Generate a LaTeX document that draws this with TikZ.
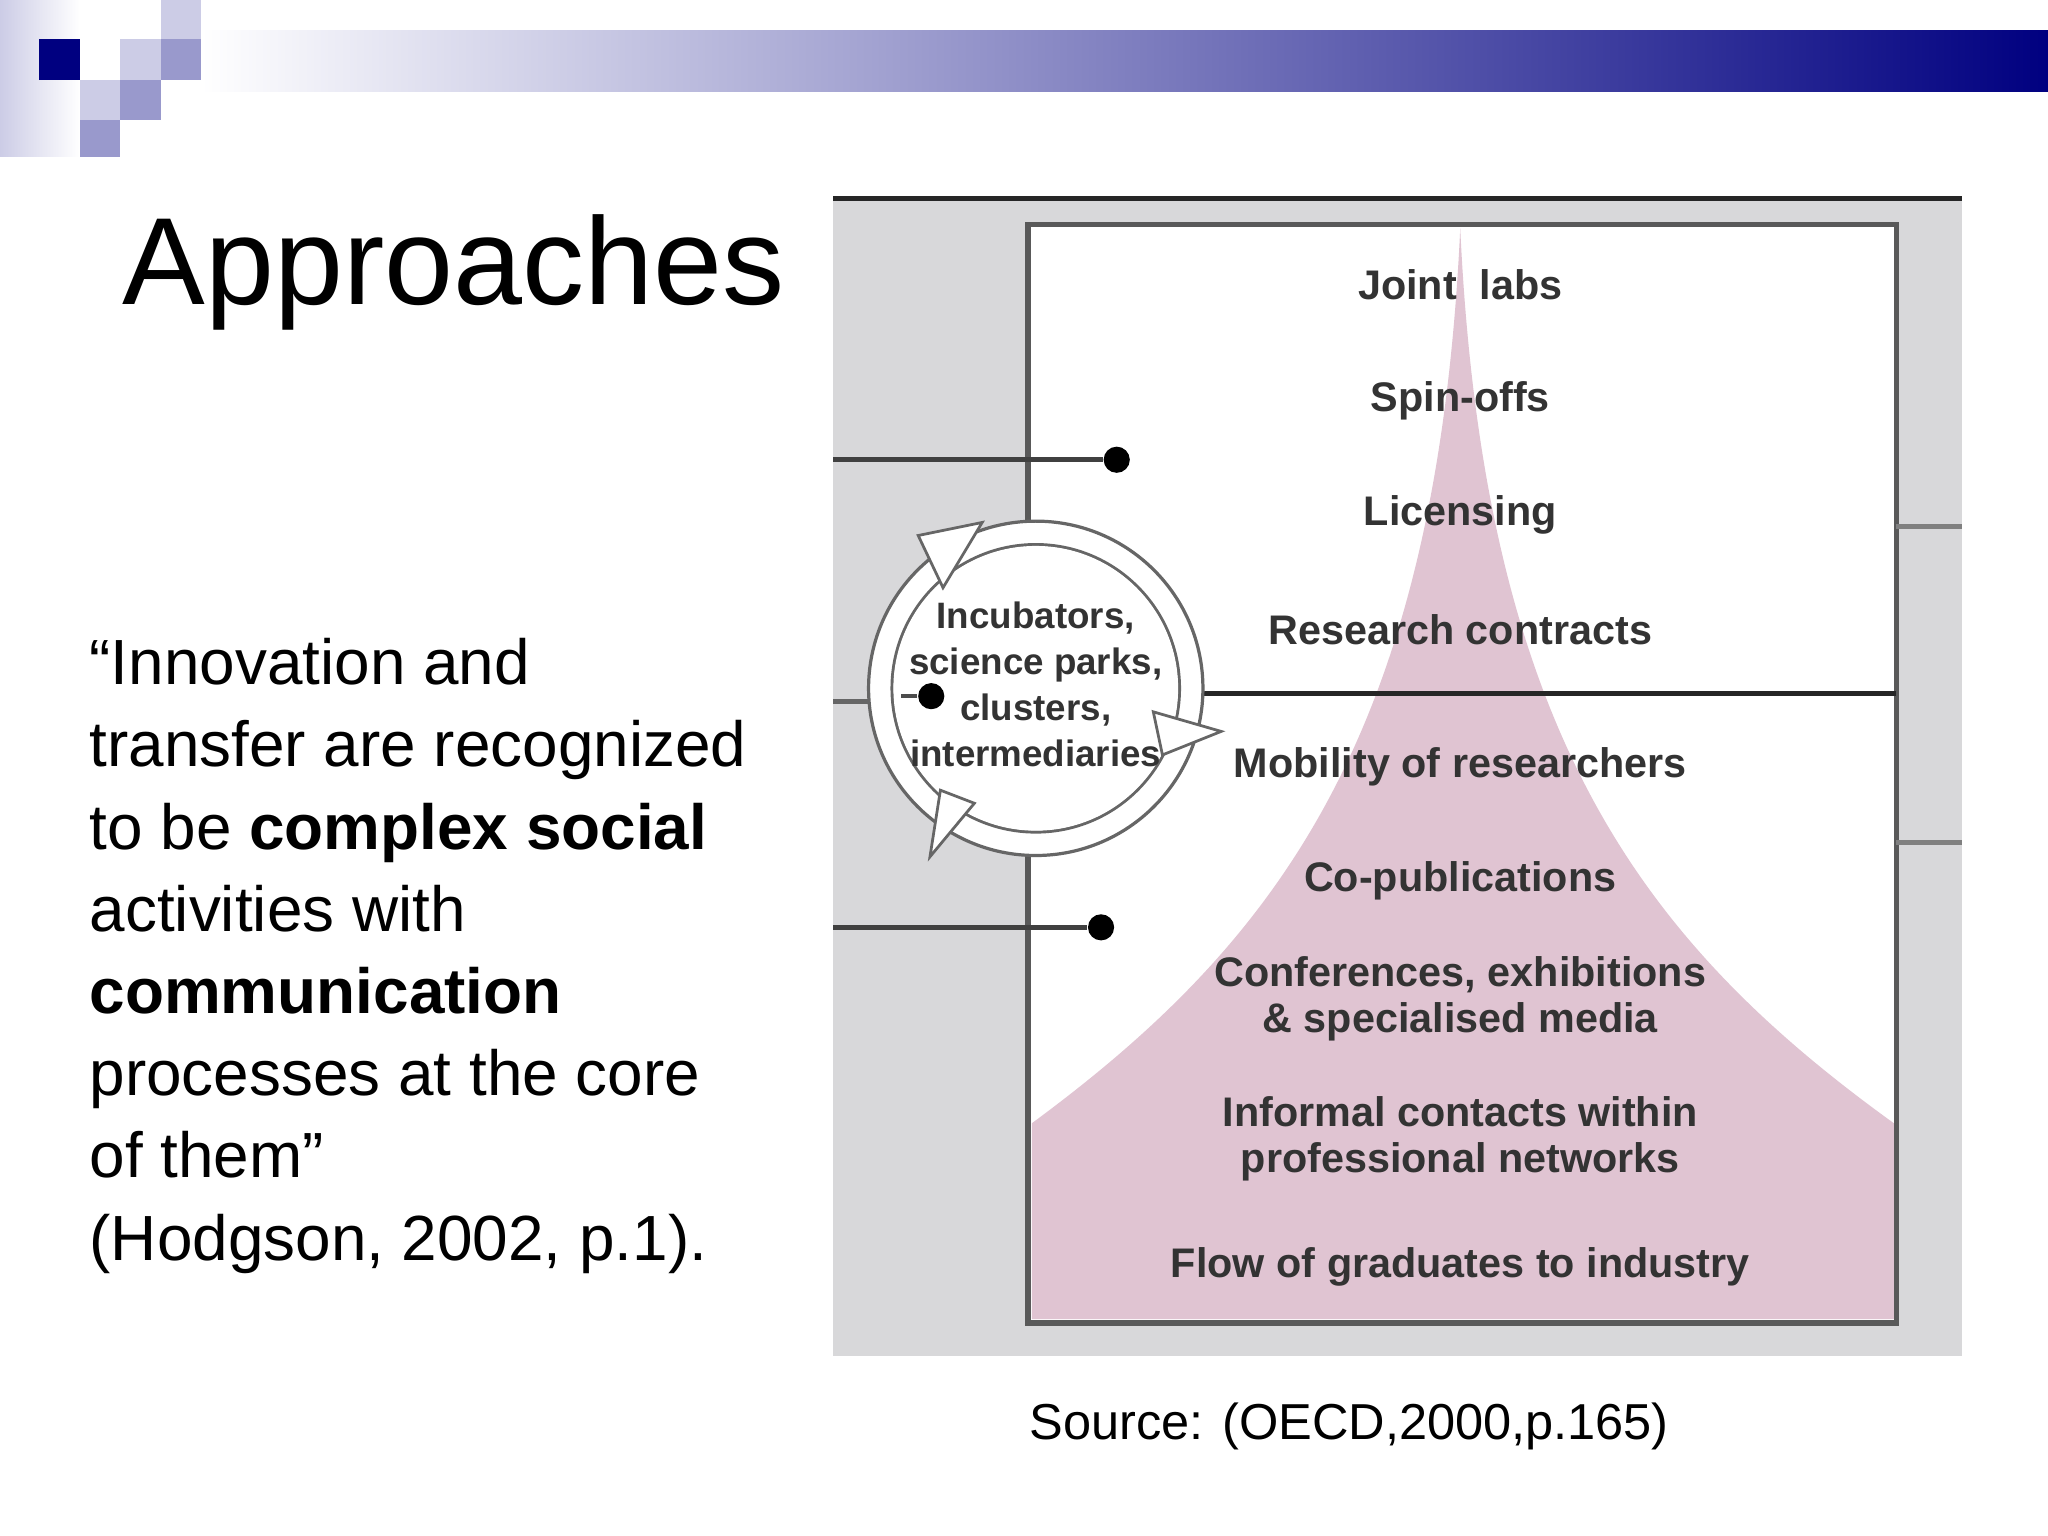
\documentclass[tikz,border=0pt]{standalone}
\usepackage{fontspec}
\setmainfont{Liberation Sans}
\begin{document}
\begin{tikzpicture}[x=0.01cm,y=-0.01cm,
  lbl/.style={text=black!80, font=\fontsize{9}{10}\selectfont\bfseries, align=center, inner sep=0pt},
  dot/.style={circle, fill=black, inner sep=0pt, minimum size=0.2cm},
  tri/.style={fill=white, draw=black!60, line width=0.6pt}]
\useasboundingbox (0,0) rectangle (1568,1176);
\definecolor{navy}{RGB}{0,0,128}
\definecolor{lav}{RGB}{204,204,230}
\definecolor{mid}{RGB}{153,153,204}
\definecolor{pinky}{RGB}{224,196,210}
\definecolor{panel}{RGB}{216,216,218}
% header decoration
\shade[left color=white, right color=navy] (154,23) rectangle (1568,70);
\shade[left color=lav, right color=white] (0,0) rectangle (61,120);
\fill[navy] (30,30) rectangle (61,61);
\fill[lav] (92,30) rectangle (123,61);
\fill[mid] (123,30) rectangle (154,61);
\fill[lav] (123,0) rectangle (154,30);
\fill[lav] (61,61) rectangle (92,92);
\fill[mid] (92,61) rectangle (123,92);
\fill[mid] (61,92) rectangle (92,120);
% title and text
\node[anchor=base west, inner sep=0pt, font=\fontsize{27}{30}\selectfont] (title) at (93,233) {Approaches};
\node[anchor=north west, inner sep=0pt, align=left, font=\fontsize{13.9}{17.9}\selectfont] (quote) at (68,488)
{“Innovation and\\transfer are recognized\\to be \textbf{complex social}\\activities with\\\textbf{communication}\\processes at the core\\of them”\\(Hodgson, 2002, p.1).};
\node[inner sep=0pt, font=\fontsize{11}{13}\selectfont] (src) at (1033,1092) {Source: (OECD,2000,p.165)};
% panel
\fill[panel] (638,152) rectangle (1502,1038);
\draw[line width=1.2pt, black!85] (638,152) -- (1502,152);
\fill[white] (787,172) rectangle (1452,1013);
\fill[pinky] (1118,175) .. controls (1100,560) and (980,720) .. (790,860) -- (790,1010) -- (1450,1010) -- (1450,860) .. controls (1256,720) and (1136,560) .. (1118,175) -- cycle;
\draw[line width=1.2pt, black!65] (787,172) rectangle (1452,1013);
\draw[line width=1pt, black!85] (900,531) -- (1452,531);
% side lines
\node[dot] (d1) at (855,352) {};
\node[dot] (d2) at (843,710) {};
\coordinate (l1) at (638,352);
\coordinate (l2) at (638,710);
\coordinate (l3) at (638,537);
\draw[line width=1pt, black!75] (l1) -- (d1);
\draw[line width=1pt, black!75] (l2) -- (d2);
\draw[line width=1pt, black!50] (1452,403) -- (1502,403);
\draw[line width=1pt, black!50] (1452,645) -- (1502,645);
% cycle ring
\fill[white, even odd rule, draw=black!60, line width=0.7pt] (793,527) circle (128) (793,527) circle (110);
\fill[white] (793,527) circle (109);
\draw[line width=1pt, black!60] (l3) -- (666,537);
\node[dot] (d3) at (713,533) {};
\draw[line width=0.8pt, black!70] (d3) -- (690,533);
\draw[tri] (703,410) -- (752,400) -- (722,450) -- cycle;
\draw[tri] (883,545) -- (935,560) -- (890,578) -- cycle;
\draw[tri] (712,656) -- (720,605) -- (746,615) -- cycle;
\node[lbl, font=\fontsize{8}{10}\selectfont\bfseries] (inc) at (793,524) {Incubators,\\science parks,\\clusters,\\intermediaries};
% labels
\node[lbl] (a) at (1118,218) {Joint\ \ labs};
\node[lbl] (b) at (1118,307) {Spin-offs};
\node[lbl] (c) at (1118,394) {Licensing};
\node[lbl] (e) at (1118,482) {Research contracts};
\node[lbl] (f) at (1118,587) {Mobility of researchers};
\node[lbl] (g) at (1118,674) {Co-publications};
\node[lbl] (h) at (1118,765) {Conferences, exhibitions\\\& specialised media};
\node[lbl] (i) at (1118,872) {Informal contacts within\\professional networks};
\node[lbl] (j) at (1118,970) {Flow of graduates to industry};
\end{tikzpicture}
\end{document}
